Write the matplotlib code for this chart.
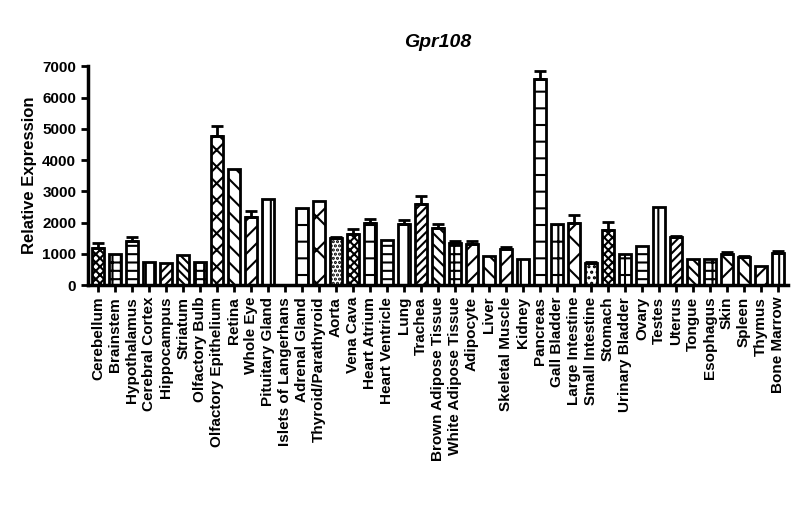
import numpy as np
import matplotlib.pyplot as plt

plt.rcParams['font.family'] = ['Liberation Sans', 'DejaVu Sans']
plt.rcParams['hatch.linewidth'] = 1.5

# Tissue, mean, upper error
tissues = [
    ('Cerebellum', 1200, 150), ('Brainstem', 1000, 0), ('Hypothalamus', 1400, 150),
    ('Cerebral Cortex', 730, 0), ('Hippocampus', 700, 0), ('Striatum', 970, 0),
    ('Olfactory Bulb', 750, 0), ('Olfactory Epithelium', 4770, 310), ('Retina', 3710, 0),
    ('Whole Eye', 2190, 180), ('Pituitary Gland', 2740, 0), ('Islets of Langerhans', 0, 0),
    ('Adrenal Gland', 2470, 0), ('Thyroid/Parathyroid', 2680, 0), ('Aorta', 1500, 50),
    ('Vena Cava', 1630, 170), ('Heart Atrium', 1990, 110), ('Heart Ventricle', 1440, 0),
    ('Lung', 1940, 130), ('Trachea', 2580, 260), ('Brown Adipose Tissue', 1830, 140),
    ('White Adipose Tissue', 1340, 80), ('Adipocyte', 1310, 110), ('Liver', 940, 0),
    ('Skeletal Muscle', 1160, 70), ('Kidney', 840, 0), ('Pancreas', 6610, 250),
    ('Gall Bladder', 1960, 0), ('Large Intestine', 1990, 240), ('Small Intestine', 700, 50),
    ('Stomach', 1760, 260), ('Urinary Bladder', 990, 0), ('Ovary', 1250, 0),
    ('Testes', 2490, 0), ('Uterus', 1530, 50), ('Tongue', 820, 0), ('Esophagus', 830, 0),
    ('Skin', 990, 70), ('Spleen', 910, 30), ('Thymus', 600, 0), ('Bone Marrow', 1030, 60),
]
names = [t[0] for t in tissues]
vals = np.array([t[1] for t in tissues])
errs = np.array([t[2] for t in tissues])

hatches = ['xxxx', '++', '--', '||', '////', '\\\\\\\\', '++', 'xx', '\\\\', '//', '||', '',
           '+', 'x', '....', 'xxxx', '+', '--', '|', '////', '\\\\\\', '++', '//', '\\\\',
           '//', '||', '-', '+', 'x', '...', 'xxxx', '+', '--', '|', '////', '\\\\\\', '++',
           'x', '\\\\', '//', '||']

fig = plt.figure(figsize=(8, 5.23), dpi=100)
ax = fig.add_axes([0.11, 0.455, 0.875, 0.418])
x = np.arange(len(names))
for i in range(len(names)):
    ax.bar(x[i], vals[i], width=0.72, color='white', edgecolor='black',
           linewidth=2, hatch=hatches[i])
    if errs[i] > 0:
        ax.errorbar(x[i], vals[i], yerr=[[0], [errs[i]]], fmt='none',
                    ecolor='black', elinewidth=2, capsize=4, capthick=2)

ax.set_xlim(-0.6, len(names) - 0.4)
ax.set_ylim(0, 7000)
ax.set_yticks(range(0, 7001, 1000))
ax.set_xticks(x)
ax.set_xticklabels(names, rotation=90, fontsize=11, fontweight='bold')
ax.tick_params(axis='y', labelsize=11, width=2, length=5)
ax.tick_params(axis='x', width=2, length=5)
for lab in ax.get_yticklabels():
    lab.set_fontweight('bold')
for s in ['top', 'right']:
    ax.spines[s].set_visible(False)
for s in ['left', 'bottom']:
    ax.spines[s].set_linewidth(2.5)
ax.set_ylabel('Relative Expression', fontsize=12, fontweight='bold')
ax.set_title('Gpr108', fontsize=14, fontweight='bold', style='italic', pad=14)

fig.savefig('out.png')
